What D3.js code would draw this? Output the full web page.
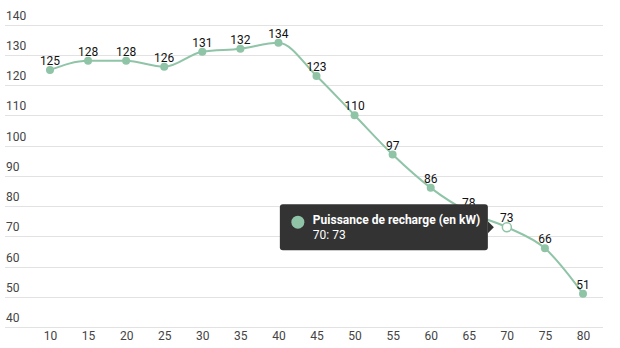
<!DOCTYPE html>
<html>
<head>
<meta charset="utf-8">
<script src="https://cdn.jsdelivr.net/npm/d3@7"></script>
<style>
  html, body { margin: 0; padding: 0; background: #fff; }
  svg { display: block; font-family: Roboto, "Noto Sans", sans-serif; }
</style>
</head>
<body>
<svg id="chart" width="620" height="348"></svg>
<script>
// Charging power (kW) by state of charge (%)
const categories = [10, 15, 20, 25, 30, 35, 40, 45, 50, 55, 60, 65, 70, 75, 80];
const power = [125, 128, 128, 126, 131, 132, 134, 123, 110, 97, 86, 78, 73, 66, 51];
const yTicks = [40, 50, 60, 70, 80, 90, 100, 110, 120, 130, 140];
const seriesName = "Puissance de recharge (en kW)";
const hoverIndex = 12;

const color = "#8fc4a7";
const svg = d3.select("#chart");

const x = d3.scalePoint().domain(categories).range([50, 583]);
const y = d3.scaleLinear().domain([40, 140]).range([327, 24.5]);

// horizontal grid
svg.append("g").selectAll("line").data(yTicks).join("line")
  .attr("x1", 5).attr("x2", 603)
  .attr("y1", d => Math.round(y(d)) + 0.5).attr("y2", d => Math.round(y(d)) + 0.5)
  .attr("stroke", "#e2e2e2").attr("stroke-width", 1);

// y tick labels, sitting above their grid line
svg.append("g").selectAll("text").data(yTicks).join("text")
  .attr("x", 6).attr("y", d => y(d) - 5)
  .attr("font-size", 12).attr("fill", "#444")
  .text(d => d);

// x axis labels
const xAxis = d3.axisBottom(x).tickSize(0).tickPadding(0);
const gx = svg.append("g").attr("transform", "translate(0,331)").call(xAxis);
gx.select(".domain").remove();
gx.selectAll("text").attr("font-size", 12).attr("fill", "#444")
  .attr("font-family", "Roboto, 'Noto Sans', sans-serif").attr("dy", "0.71em");

const pts = categories.map((c, i) => ({ c, v: power[i], i }));

// series line
const line = d3.line().x(d => x(d.c)).y(d => y(d.v)).curve(d3.curveMonotoneX);
svg.append("path").datum(pts)
  .attr("d", line).attr("fill", "none")
  .attr("stroke", color).attr("stroke-width", 2);

// markers
svg.append("g").selectAll("circle").data(pts).join("circle")
  .attr("cx", d => x(d.c)).attr("cy", d => y(d.v))
  .attr("r", d => d.i === hoverIndex ? 4.5 : 4)
  .attr("fill", d => d.i === hoverIndex ? "#fff" : color)
  .attr("stroke", d => d.i === hoverIndex ? color : "none")
  .attr("stroke-width", 1.5);

// value labels
svg.append("g").selectAll("text").data(pts).join("text")
  .attr("x", d => x(d.c)).attr("y", d => y(d.v) - 5)
  .attr("text-anchor", "middle").attr("font-size", 12).attr("fill", "#111")
  .text(d => d.v);

// tooltip for the hovered point
const hp = pts[hoverIndex];
const tipRight = x(hp.c) - 19, tipW = 208, tipH = 46;
const tipTop = y(hp.v) - 23;
const tip = svg.append("g");
tip.append("rect")
  .attr("x", tipRight - tipW).attr("y", tipTop)
  .attr("width", tipW).attr("height", tipH).attr("rx", 3)
  .attr("fill", "#333333");
tip.append("path")
  .attr("d", `M${tipRight},${y(hp.v) - 6} L${tipRight + 6},${y(hp.v)} L${tipRight},${y(hp.v) + 6} Z`)
  .attr("fill", "#333333");
tip.append("circle")
  .attr("cx", tipRight - tipW + 18).attr("cy", tipTop + 18).attr("r", 6.5)
  .attr("fill", color);
tip.append("text")
  .attr("x", tipRight - tipW + 33).attr("y", tipTop + 20)
  .attr("font-size", 12).attr("font-weight", "bold").attr("fill", "#fff")
  .text(seriesName);
tip.append("text")
  .attr("x", tipRight - tipW + 33).attr("y", tipTop + 35)
  .attr("font-size", 12).attr("fill", "#fff")
  .text(`${hp.c}: ${hp.v}`);
</script>
</body>
</html>
